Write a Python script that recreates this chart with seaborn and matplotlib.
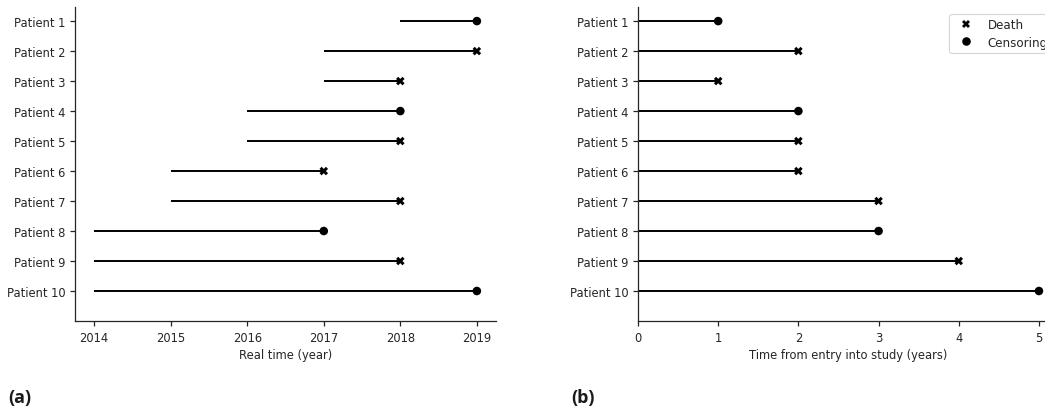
import matplotlib
matplotlib.use("Agg")
import matplotlib.pyplot as plt
import seaborn as sns
import pandas as pd

patients = [f"Patient {i}" for i in range(1, 11)]
entry_year = [2018, 2017, 2017, 2016, 2016, 2015, 2015, 2014, 2014, 2014]
exit_year = [2019, 2019, 2018, 2018, 2018, 2017, 2018, 2017, 2018, 2019]
event = ["Censoring", "Death", "Death", "Censoring", "Death",
         "Death", "Death", "Censoring", "Death", "Censoring"]
year_ticks = [2014, 2015, 2016, 2017, 2018, 2019]
study_ticks = [0, 1, 2, 3, 4, 5]

df = pd.DataFrame({
    "patient": patients,
    "pos": list(range(1, len(patients) + 1)),
    "start": entry_year,
    "end": exit_year,
    "event": event,
})
df["duration"] = df["end"] - df["start"]

sns.set_style("ticks")
plt.rcParams["font.family"] = ["DejaVu Sans"]
fs = 8.3
ink = "#262626"

fig = plt.figure(figsize=(10.45, 4.10), dpi=100)
W, H = 1045, 410
ax_a = fig.add_axes([75 / W, 1 - 322 / H, 421 / W, 314 / H])
ax_b = fig.add_axes([638 / W, 1 - 322 / H, 421 / W, 314 / H])

markers = {"Death": "X", "Censoring": "o"}
order = ["Death", "Censoring"]


def draw(ax, x0, x1, legend):
    ax.hlines(df["pos"], x0, x1, color="black", lw=1.4, zorder=2)
    sns.scatterplot(data=df, x=x1.name, y="pos", style="event", style_order=order,
                    markers=markers, color="black", s=38, linewidth=0,
                    ax=ax, legend=legend, zorder=3)
    ax.set_yticks(df["pos"])
    ax.set_yticklabels(df["patient"], fontsize=fs, color=ink)
    ax.set_ylim(11, 0.53)
    ax.set_ylabel("")
    ax.tick_params(axis="x", labelsize=fs, labelcolor=ink, length=3.5, width=0.9)
    ax.tick_params(axis="y", length=3.5, width=0.9)
    for s in ("left", "bottom"):
        ax.spines[s].set_linewidth(0.9)
        ax.spines[s].set_color(ink)
    sns.despine(ax=ax)


# (a) calendar time
draw(ax_a, df["start"], df["end"], False)
ax_a.set_xticks(year_ticks)
ax_a.set_xticklabels([str(y) for y in year_ticks])
ax_a.set_xlim(2013.75, 2019.25)
ax_a.set_xlabel("Real time (year)", fontsize=fs, color=ink, labelpad=3)

# (b) time since entry
df["zero"] = 0
draw(ax_b, df["zero"], df["duration"], True)
ax_b.set_xticks(study_ticks)
ax_b.set_xlim(0, 5.25)
ax_b.set_xlabel("Time from entry into study (years)", fontsize=fs, color=ink,
                labelpad=3)
leg = ax_b.legend(loc="upper right", fontsize=fs + 0.3, frameon=True,
                  handletextpad=0.8, borderaxespad=0.55, labelspacing=0.35)
leg.get_frame().set_edgecolor("#cccccc")
leg.get_frame().set_linewidth(0.8)
for h in leg.legend_handles:
    h.set_color("black")

fig.text(8 / W, 1 - 398 / H, "(a)", fontsize=13, fontweight="bold",
         family="Open Sans", va="center", ha="left", color="#1a1a1a")
fig.text(571 / W, 1 - 398 / H, "(b)", fontsize=13, fontweight="bold",
         family="Open Sans", va="center", ha="left", color="#1a1a1a")

fig.savefig("out.png", dpi=100)
